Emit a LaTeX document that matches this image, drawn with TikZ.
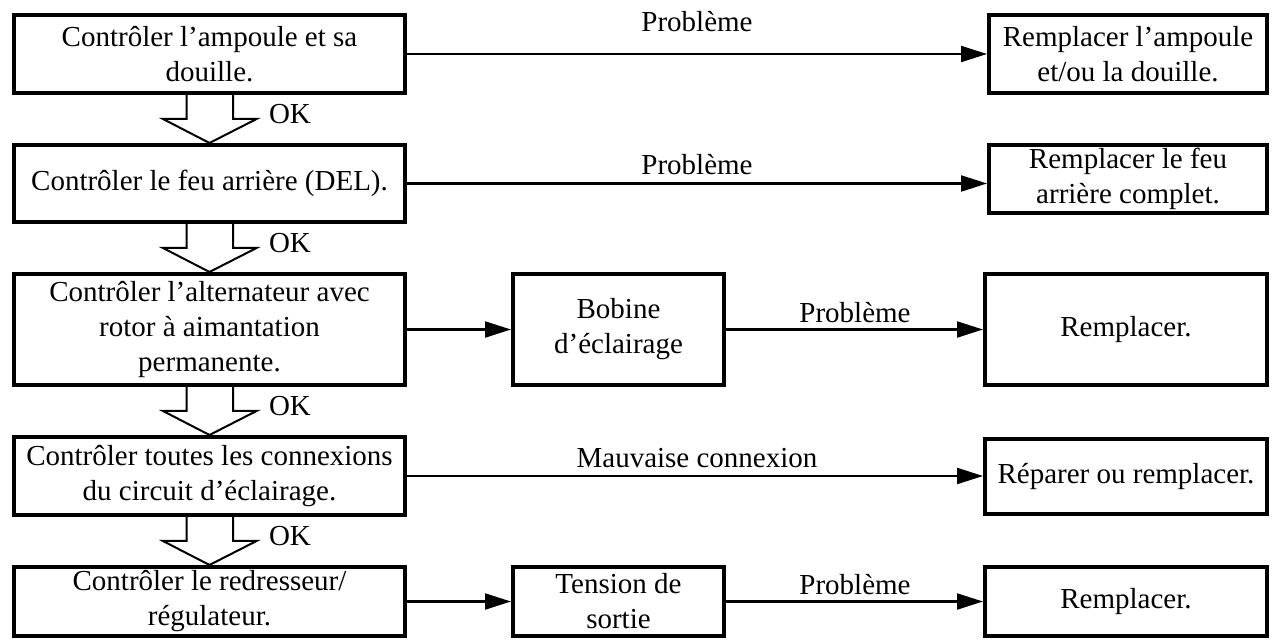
\documentclass[tikz,border=0pt]{standalone}
\usepackage{fontspec}
\setmainfont{Liberation Serif}
\usepackage{tikz}
\usetikzlibrary{arrows.meta}

\begin{document}
\begin{tikzpicture}[x=0.5pt,y=-0.5pt,
    box/.style={draw, line width=2pt, align=center, inner sep=0pt,
        font=\fontsize{14.5}{17.5}\selectfont},
    lbl/.style={font=\fontsize{14.5}{17.5}\selectfont, inner sep=0pt},
    flow/.style={line width=1.1pt, -{Triangle[length=13pt,width=8pt]}},
    okarrow/.style={line width=1pt, line join=miter}]
    \useasboundingbox (0,0) rectangle (1281,641);

    %row 1
    \node[box, minimum width=195.5pt, minimum height=39pt] (chk1) at (209.5,54) {Contrôler l’ampoule et sa\\douille.};
    \node[box, minimum width=139pt, minimum height=39pt] (fix1) at (1128,54) {Remplacer l’ampoule\\et/ou la douille.};
    \draw [flow] (chk1) to (fix1);
    \node[lbl] (pb1) at (697,22) {Problème};

    %row 2
    \node[box, minimum width=195.5pt, minimum height=38.5pt] (chk2) at (209.5,183.5) {Contrôler le feu arrière (DEL).};
    \node[box, minimum width=139pt, minimum height=34pt] (fix2) at (1128,179) {Remplacer le feu\\arrière complet.};
    \draw [flow] (chk2.east) to (chk2.east -| fix2.west);
    \node[lbl] (pb2) at (697,165) {Problème};

    %row 3
    \node[box, minimum width=195.5pt, minimum height=55.5pt] (chk3) at (209.5,329.5) {Contrôler l’alternateur avec\\rotor à aimantation\\permanente.};
    \node[box, minimum width=105.5pt, minimum height=55.5pt] (coil) at (618.5,329.5) {Bobine\\d’éclairage};
    \node[box, minimum width=141pt, minimum height=55.5pt] (fix3) at (1126,329.5) {Remplacer.};
    \draw [flow] (chk3) to (coil);
    \draw [flow] (coil) to (fix3);
    \node[lbl] (pb3) at (855,313) {Problème};

    %row 4
    \node[box, minimum width=195.5pt, minimum height=39pt] (chk4) at (209.5,476) {Contrôler toutes les connexions\\du circuit d’éclairage.};
    \node[box, minimum width=141pt, minimum height=37.5pt] (fix4) at (1126,476.5) {Réparer ou remplacer.};
    \draw [flow] (chk4.east) to (chk4.east -| fix4.west);
    \node[lbl] (pb4) at (697,458) {Mauvaise connexion};

    %row 5
    \node[box, minimum width=195.5pt, minimum height=34.5pt] (chk5) at (209.5,601.5) {Contrôler le redresseur/\\régulateur.};
    \node[box, minimum width=105.5pt, minimum height=34.5pt] (volt) at (618.5,601.5) {Tension de\\sortie};
    \node[box, minimum width=141pt, minimum height=34.5pt] (fix5) at (1126,601.5) {Remplacer.};
    \draw [flow] (chk5) to (volt);
    \draw [flow] (volt) to (fix5);
    \node[lbl] (pb5) at (855,585) {Problème};

    %OK arrows
    \draw [okarrow] ([xshift=-11.5pt]chk1.south) -- ++(0,24) -- ++(-23.5,0) -- (chk2.north) -- ++(47,-24) -- ++(-23.5,0) -- ++(0,-24);
    \node[lbl] (ok1) at (290,114) {OK};
    \draw [okarrow] ([xshift=-11.5pt]chk2.south) -- ++(0,24) -- ++(-23.5,0) -- (chk3.north) -- ++(47,-24) -- ++(-23.5,0) -- ++(0,-24);
    \node[lbl] (ok2) at (290,243) {OK};
    \draw [okarrow] ([xshift=-11.5pt]chk3.south) -- ++(0,24) -- ++(-23.5,0) -- (chk4.north) -- ++(47,-24) -- ++(-23.5,0) -- ++(0,-24);
    \node[lbl] (ok3) at (290,406) {OK};
    \draw [okarrow] ([xshift=-11.5pt]chk4.south) -- ++(0,24) -- ++(-23.5,0) -- (chk5.north) -- ++(47,-24) -- ++(-23.5,0) -- ++(0,-24);
    \node[lbl] (ok4) at (290,536) {OK};

\end{tikzpicture}
\end{document}
